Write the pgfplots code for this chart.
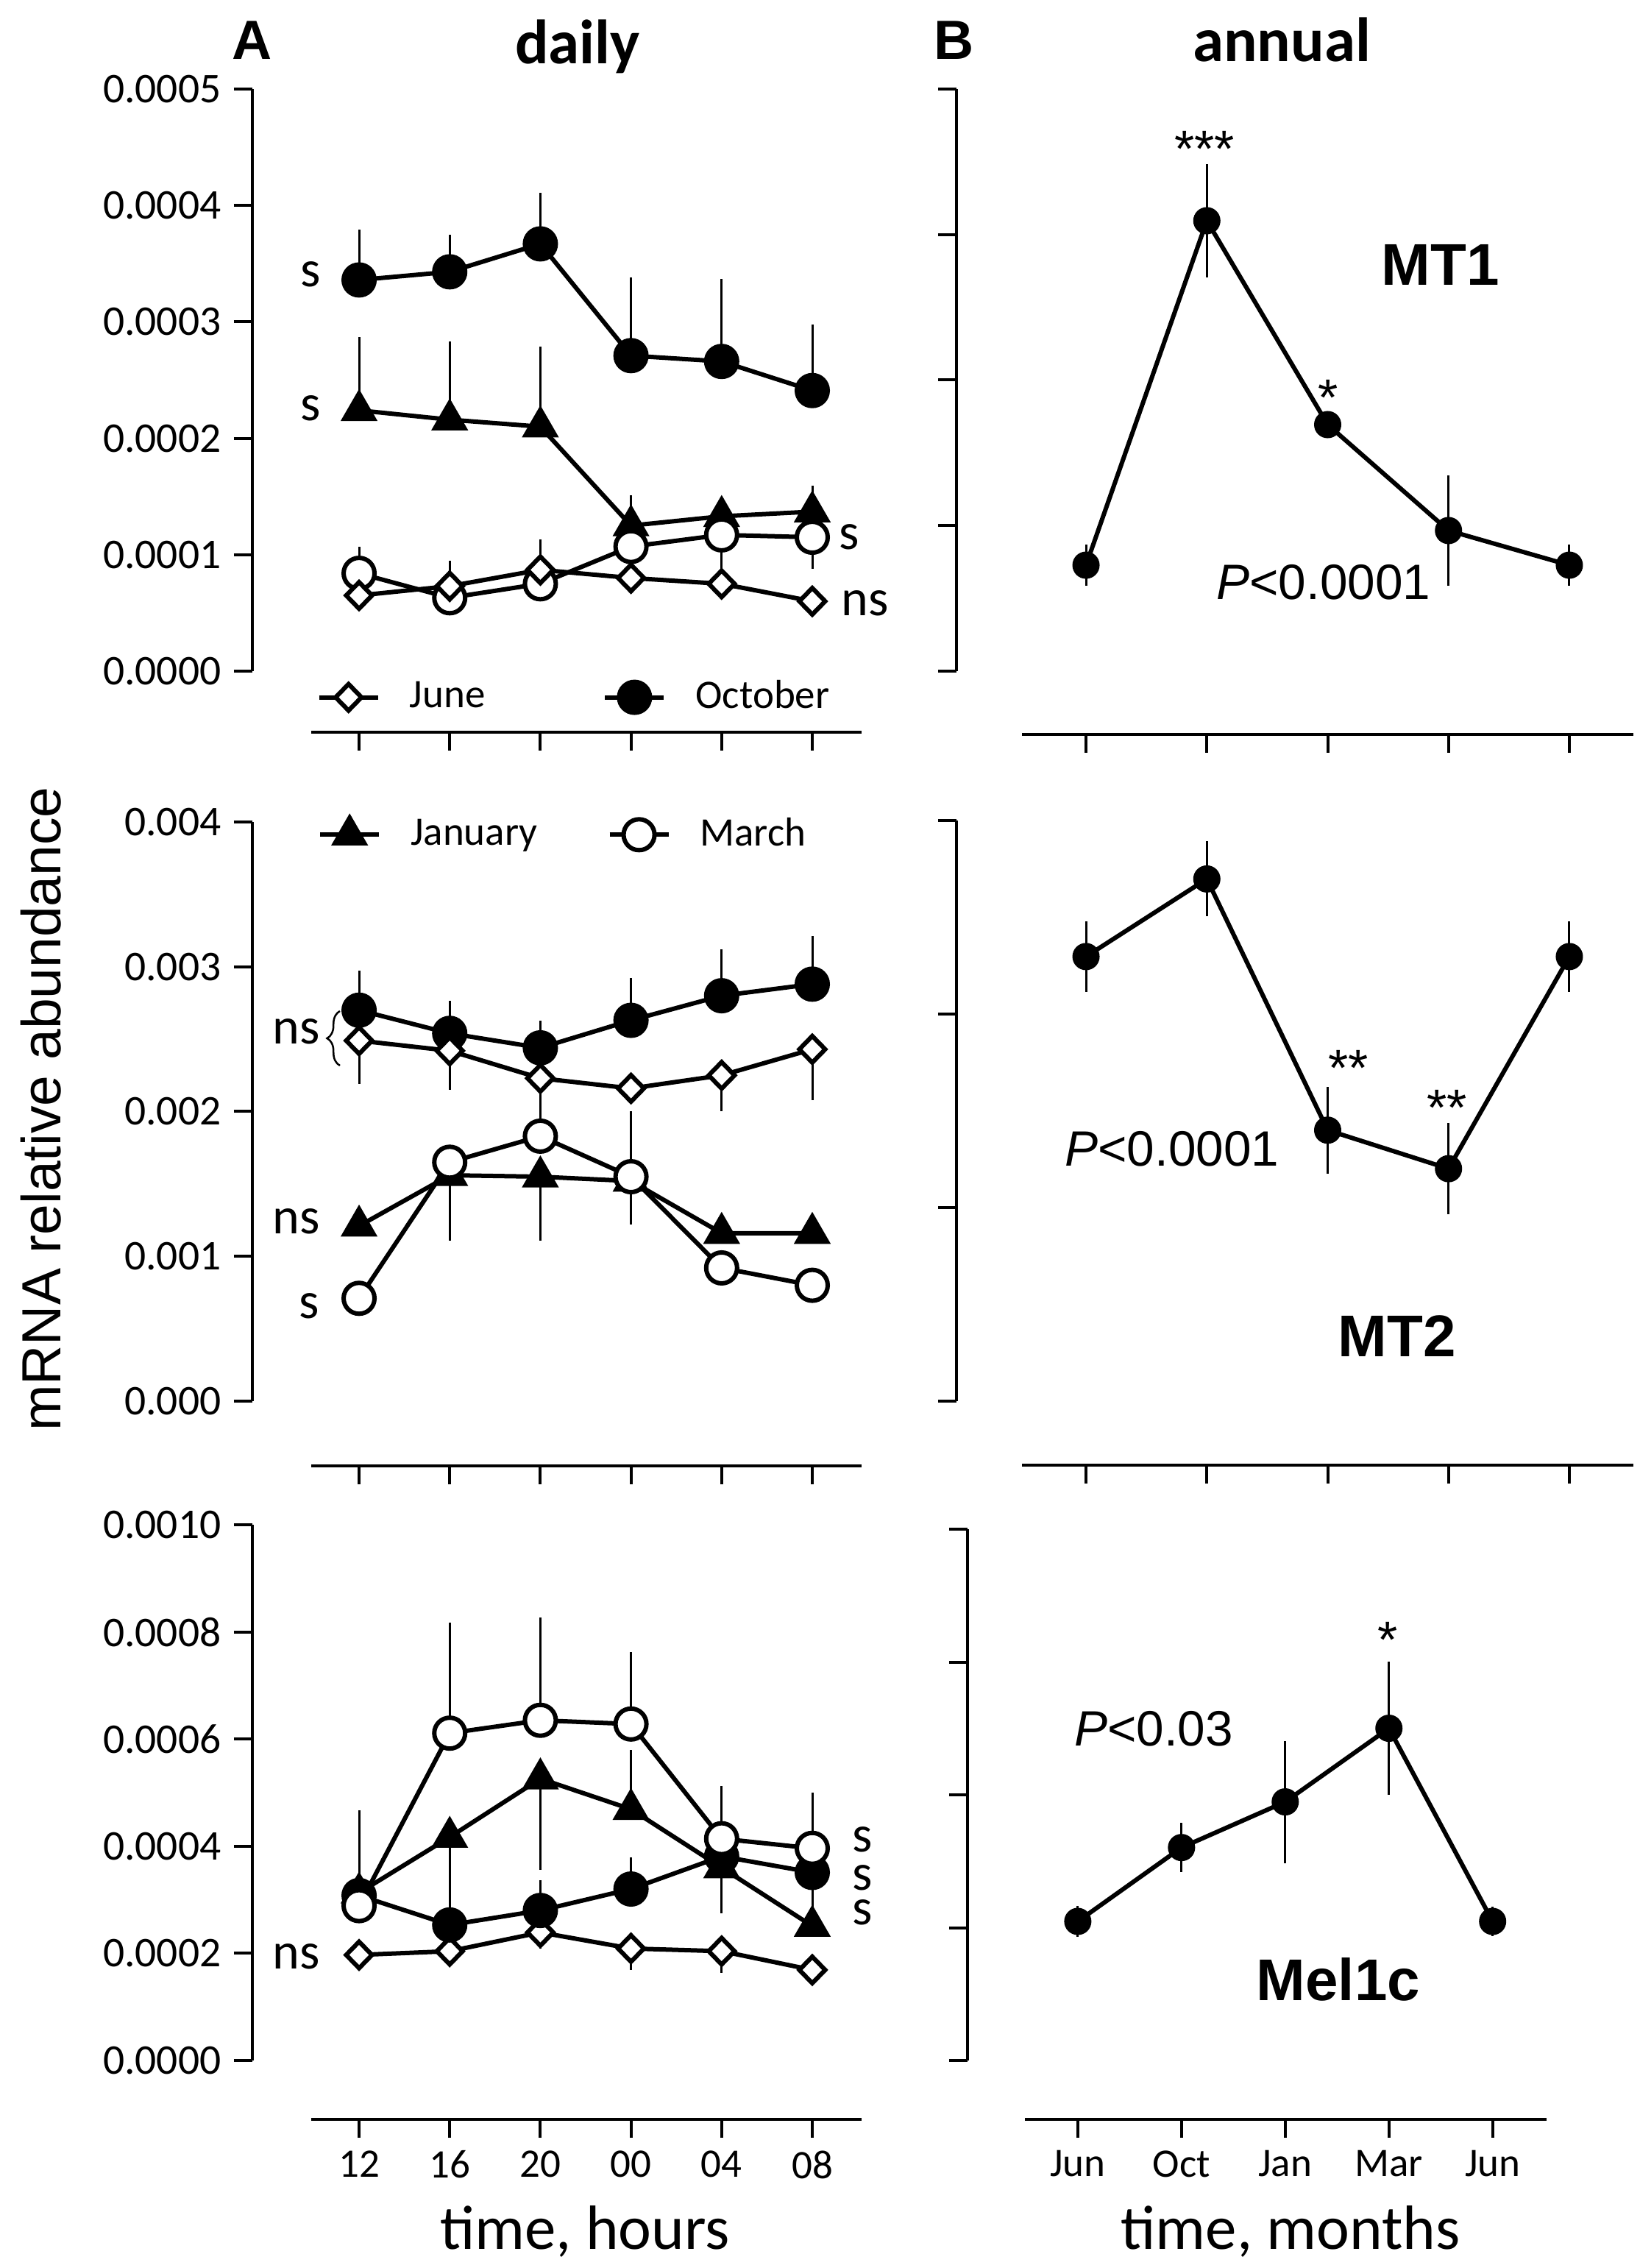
\documentclass[border=0pt]{standalone}
\usepackage{pgfplots}
\pgfplotsset{compat=1.18}
\usepackage{fontspec}
\setmainfont{Carlito}
\newfontfamily\arial{Liberation Sans}
\usetikzlibrary{decorations.pathreplacing}
\newcommand{\fs}[1]{\fontsize{#1}{#1}\selectfont}

\pgfplotsset{
  base/.style={
    scale only axis, anchor=south west, clip=false,
    axis x line*=bottom, axis y line*=left,
    axis line style={line width=0.8pt},
    tick align=outside, major tick length=5pt,
    tick style={line width=0.8pt, black},
    /pgf/number format/assume math mode=true,
    ticklabel style={font=\fs{11}},
    scaled y ticks=false,
    every axis plot/.append style={line width=1.2pt, black},
    error bars/error bar style={line width=0.6pt},
    error bars/error mark=none,
    legend cell align=left,
    legend image code/.code={\draw[mark repeat=2,mark phase=2,##1] plot coordinates {(0pt,0pt) (8pt,0pt) (16pt,0pt)}; \path (22pt,0pt);},
  },
  left4/.style={yticklabel style={font=\fs{11.5}, /pgf/number format/fixed, /pgf/number format/fixed zerofill, /pgf/number format/precision=4}},
  left3/.style={yticklabel style={font=\fs{11.5}, /pgf/number format/fixed, /pgf/number format/fixed zerofill, /pgf/number format/precision=3}},
  oct/.style={mark=*, mark size=4.2pt, mark options={fill=black}},
  mar/.style={mark=*, mark size=4.2pt, mark options={fill=white}},
  jan/.style={mark=triangle*, mark size=4.6pt, mark options={fill=black}},
  jun/.style={mark=diamond*, mark size=3.6pt, mark options={fill=white, xscale=1.3}},
  ann/.style={mark=*, mark size=3.1pt, mark options={fill=black}},
}

\begin{document}
\begin{tikzpicture}
\path[use as bounding box] (0,0) rectangle (445.6pt,616.4pt);

% ---------- top left: MT1 daily ----------
\begin{axis}[base, left4, at={(84.6pt,434pt)}, width=149.6pt, height=158.2pt,
  xmin=-0.528, xmax=5.544, ymin=0, ymax=0.0005,
  ytick={0,0.0001,0.0002,0.0003,0.0004,0.0005},
  xtick={0,...,5}, xticklabels={},
  axis y line shift=16pt, axis x line shift=16.6pt,
  legend columns=2,
  legend style={at={(axis description cs:0.009,-0.045)}, anchor=west, draw=none, fill=none,
    font=\fs{11}, inner xsep=0pt, inner ysep=0pt, /tikz/every even column/.append style={column sep=30pt}},
]
\addplot[jan, forget plot, error bars/.cd, y dir=both, y explicit] table[row sep=\\, y error plus=ep, y error minus=em]{
x y ep em\\ 0 0.000224 0.000063 0\\ 1 0.000216 0.000067 0\\ 2 0.000210 0.000069 0\\ 3 0.000125 0.000026 0\\ 4 0.000133 0.000015 0\\ 5 0.000137 0.000022 0\\};
\addplot[mar, forget plot, error bars/.cd, y dir=both, y explicit] table[row sep=\\, y error plus=ep, y error minus=em]{
x y ep em\\ 0 0.000084 0.000023 0.000005\\ 1 0.000063 0.000005 0.000005\\ 2 0.000075 0.000005 0.000005\\ 3 0.000107 0.000005 0.000010\\ 4 0.000117 0.000005 0.000030\\ 5 0.000115 0.000005 0.000027\\};
\addplot[jun, error bars/.cd, y dir=both, y explicit] table[row sep=\\, y error plus=ep, y error minus=em]{
x y ep em\\ 0 0.000065 0.000005 0.000005\\ 1 0.000073 0.000022 0.000005\\ 2 0.000087 0.000026 0.000005\\ 3 0.000080 0.000005 0.000005\\ 4 0.000075 0.000005 0.000005\\ 5 0.000060 0.000005 0.000005\\};
\addlegendentry{June}
\addplot[oct, error bars/.cd, y dir=both, y explicit] table[row sep=\\, y error plus=ep, y error minus=em]{
x y ep em\\ 0 0.000336 0.000043 0\\ 1 0.000343 0.000032 0\\ 2 0.000367 0.000044 0\\ 3 0.000271 0.000067 0\\ 4 0.000266 0.000071 0\\ 5 0.000241 0.000057 0\\};
\addlegendentry{October}
\end{axis}

% ---------- middle left: MT2 daily ----------
\begin{axis}[base, left3, at={(84.6pt,235.6pt)}, width=149.6pt, height=157.4pt,
  xmin=-0.528, xmax=5.544, ymin=0, ymax=0.004,
  ytick={0,0.001,0.002,0.003,0.004},
  xtick={0,...,5}, xticklabels={},
  axis y line shift=16pt, axis x line shift=17.6pt,
  legend columns=2,
  legend style={at={(axis description cs:0.011,0.978)}, anchor=west, draw=none, fill=none,
    font=\fs{11}, inner xsep=0pt, inner ysep=0pt, /tikz/every even column/.append style={column sep=17pt}},
]
\addplot[oct, forget plot, error bars/.cd, y dir=both, y explicit] table[row sep=\\, y error plus=ep, y error minus=em]{
x y ep em\\ 0 0.00270 0.000275 0\\ 1 0.00254 0.000227 0\\ 2 0.00244 0.00019 0\\ 3 0.00263 0.00029 0\\ 4 0.00280 0.00032 0\\ 5 0.00288 0.00033 0\\};
\addplot[jun, forget plot, error bars/.cd, y dir=both, y explicit] table[row sep=\\, y error plus=ep, y error minus=em]{
x y ep em\\ 0 0.00249 0 0.00030\\ 1 0.00242 0 0.00027\\ 2 0.00223 0 0.00029\\ 3 0.00216 0 0.00005\\ 4 0.00225 0 0.00025\\ 5 0.00243 0 0.00035\\};
\addplot[jan, error bars/.cd, y dir=both, y explicit] table[row sep=\\, y error plus=ep, y error minus=em]{
x y ep em\\ 0 0.00121 0 0.00005\\ 1 0.00156 0 0.00045\\ 2 0.00155 0 0.00044\\ 3 0.00152 0 0.00005\\ 4 0.00116 0.00008 0.00005\\ 5 0.00116 0.00005 0.00005\\};
\addlegendentry{January}
\addplot[mar, error bars/.cd, y dir=both, y explicit] table[row sep=\\, y error plus=ep, y error minus=em]{
x y ep em\\ 0 0.00071 0.00005 0.00005\\ 1 0.00165 0.00005 0.00005\\ 2 0.00183 0.00005 0.00005\\ 3 0.00155 0.00045 0.00033\\ 4 0.00092 0.00005 0.00005\\ 5 0.00080 0.00005 0.00005\\};
\addlegendentry{March}
\end{axis}

% ---------- bottom left: Mel1c daily ----------
\begin{axis}[base, left4, at={(84.6pt,56.4pt)}, width=149.6pt, height=145.6pt,
  xmin=-0.528, xmax=5.544, ymin=0, ymax=0.001,
  ytick={0,0.0002,0.0004,0.0006,0.0008,0.001},
  xtick={0,...,5}, xticklabels={12,16,20,00,04,08},
  axis y line shift=16pt, axis x line shift=16pt,
]
\addplot[jun, error bars/.cd, y dir=both, y explicit] table[row sep=\\, y error plus=ep, y error minus=em]{
x y ep em\\ 0 0.000197 0.00001 0.00001\\ 1 0.000204 0.00001 0.00001\\ 2 0.000239 0.00003 0.00003\\ 3 0.000209 0.00001 0.00004\\ 4 0.000204 0.00001 0.00004\\ 5 0.000169 0.00001 0.00001\\};
\addplot[oct, error bars/.cd, y dir=both, y explicit] table[row sep=\\, y error plus=ep, y error minus=em]{
x y ep em\\ 0 0.000308 0.00002 0.00002\\ 1 0.000253 0.00002 0.00002\\ 2 0.000280 0.000057 0.00002\\ 3 0.000320 0.000059 0.00002\\ 4 0.000381 0.00002 0.00002\\ 5 0.000351 0.00002 0.000076\\};
\addplot[jan, error bars/.cd, y dir=both, y explicit] table[row sep=\\, y error plus=ep, y error minus=em]{
x y ep em\\ 0 0.000313 0.000154 0.00001\\ 1 0.000417 0.00001 0.000152\\ 2 0.000526 0.00001 0.000170\\ 3 0.000469 0.000111 0.00001\\ 4 0.000360 0.00001 0.000085\\ 5 0.000251 0.00001 0.00001\\};
\addplot[mar, error bars/.cd, y dir=both, y explicit] table[row sep=\\, y error plus=ep, y error minus=em]{
x y ep em\\ 0 0.000289 0.00003 0.00002\\ 1 0.000611 0.000206 0.00002\\ 2 0.000635 0.000192 0.00002\\ 3 0.000628 0.000135 0.00002\\ 4 0.000414 0.000098 0.00002\\ 5 0.000396 0.000104 0.00002\\};
\end{axis}

% ---------- top right: MT1 annual ----------
\begin{axis}[base, at={(277.8pt,434pt)}, width=166.2pt, height=158.2pt,
  xmin=-0.530, xmax=4.53, ymin=0, ymax=4,
  ytick={0,...,4}, yticklabels={},
  xtick={0,...,4}, xticklabels={},
  axis y line shift=17.8pt, axis x line shift=17.2pt,
]
\addplot[ann, error bars/.cd, y dir=both, y explicit] table[row sep=\\, y error=e]{
x y e\\ 0 0.728 0.14\\ 1 3.095 0.39\\ 2 1.694 0.05\\ 3 0.966 0.38\\ 4 0.728 0.14\\};
\end{axis}

% ---------- middle right: MT2 annual ----------
\begin{axis}[base, at={(277.8pt,235.6pt)}, width=166.2pt, height=157.8pt,
  xmin=-0.530, xmax=4.53, ymin=0, ymax=3,
  ytick={0,...,3}, yticklabels={},
  xtick={0,...,4}, xticklabels={},
  axis y line shift=17.8pt, axis x line shift=17.4pt,
]
\addplot[ann, error bars/.cd, y dir=both, y explicit] table[row sep=\\, y error=e]{
x y e\\ 0 2.297 0.182\\ 1 2.698 0.194\\ 2 1.400 0.224\\ 3 1.201 0.236\\ 4 2.297 0.182\\};
\end{axis}

% ---------- bottom right: Mel1c annual ----------
\begin{axis}[base, at={(278.6pt,56.4pt)}, width=141.8pt, height=144.4pt,
  xmin=-0.51, xmax=4.52, ymin=0, ymax=4,
  ytick={0,...,4}, yticklabels={},
  xtick={0,...,4}, xticklabels={Jun,Oct,Jan,Mar,Jun},
  axis y line shift=15.6pt, axis x line shift=16pt,
]
\addplot[ann, error bars/.cd, y dir=both, y explicit] table[row sep=\\, y error=e]{
x y e\\ 0 1.047 0.115\\ 1 1.603 0.187\\ 2 1.947 0.46\\ 3 2.501 0.50\\ 4 1.047 0.11\\};
\end{axis}

% ---------- texts ----------
\begin{scope}[x=0.2pt, y=-0.2pt, yshift=616.4pt]
\node[font=\arial\bfseries\fs{15}] at (343,55) {A};
\node[font=\bfseries\fs{17}] at (785,63) {daily};
\node[font=\arial\bfseries\fs{15}] at (1297,55) {B};
\node[font=\bfseries\fs{17}] at (1742,54) {annual};
\node[font=\arial\fs{15}, rotate=90] at (56,1507) {mRNA relative abundance};
\node[font=\fs{17}] at (795,3032) {time, hours};
\node[font=\fs{17}] at (1754,3032) {time, months};

\node[font=\fs{14}] at (422,373) {s};
\node[font=\fs{14}] at (422,555) {s};
\node[font=\fs{14}] at (1154,730) {s};
\node[font=\fs{14}] at (1176,820) {ns};
\node[font=\fs{14}] at (403,1402) {ns};
\draw[decorate, decoration={brace, amplitude=3.5pt}, line width=0.5pt] (462,1448) -- (462,1374);
\node[font=\fs{14}] at (403,1660) {ns};
\node[font=\fs{14}] at (420,1775) {s};
\node[font=\fs{14}] at (403,2659) {ns};
\node[font=\fs{14}, inner sep=0pt] at (1172,2500) {s};
\node[font=\fs{14}, inner sep=0pt] at (1172,2552) {s};
\node[font=\fs{14}, inner sep=0pt] at (1172,2599) {s};

\node[font=\arial\fs{14}] at (1637,202) {***};
\node[font=\arial\fs{14}] at (1805,540) {*};
\node[font=\arial\bfseries\fs{16}] at (1958,360) {MT1};
\node[font=\arial\fs{13.5}] at (1799,791) {\textit{P}<0.0001};
\node[font=\arial\fs{14}] at (1833,1451) {**};
\node[font=\arial\fs{14}] at (1967,1505) {**};
\node[font=\arial\fs{13.5}] at (1593,1561) {\textit{P}<0.0001};
\node[font=\arial\bfseries\fs{16}] at (1899,1816) {MT2};
\node[font=\arial\fs{14}] at (1886,2228) {*};
\node[font=\arial\fs{13.5}] at (1568,2349) {\textit{P}<0.03};
\node[font=\arial\bfseries\fs{16}] at (1819,2690) {Mel1c};
\end{scope}
\end{tikzpicture}
\end{document}
